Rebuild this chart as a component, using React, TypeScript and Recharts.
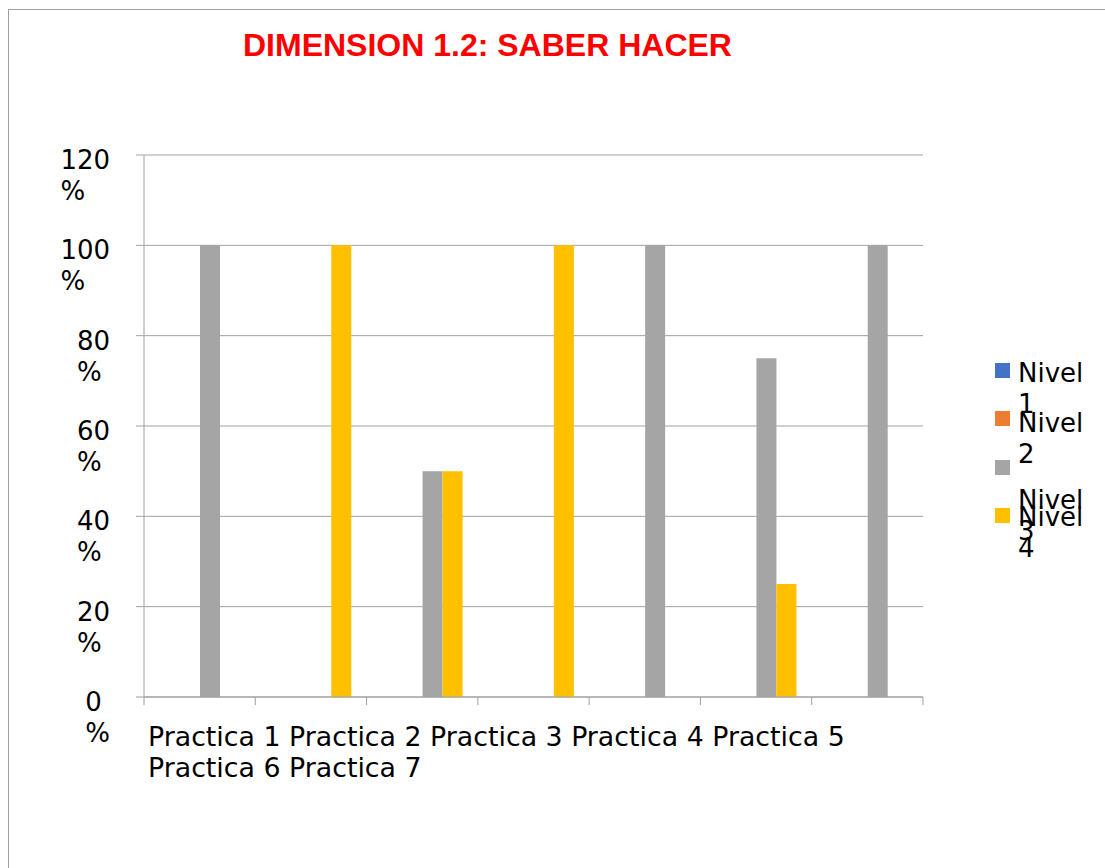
import React from "react";
import { BarChart, Bar, XAxis, YAxis, CartesianGrid, Legend } from "recharts";

const title = "DIMENSION 1.2: SABER HACER";
const categories = [
  "Practica 1",
  "Practica 2",
  "Practica 3",
  "Practica 4",
  "Practica 5",
  "Practica 6",
  "Practica 7",
];
const nivel1 = [0, 0, 0, 0, 0, 0, 0];
const nivel2 = [0, 0, 0, 0, 0, 0, 0];
const nivel3 = [100, 0, 50, 0, 100, 75, 100];
const nivel4 = [0, 100, 50, 100, 0, 25, 0];
const seriesNames = ["Nivel 1", "Nivel 2", "Nivel 3", "Nivel 4"];
const seriesColors = ["#4472c4", "#ed7d31", "#a5a5a5", "#ffc000"];
const yTicks = [0, 20, 40, 60, 80, 100, 120];

const data = categories.map((name, i) => ({
  name,
  n1: nivel1[i],
  n2: nivel2[i],
  n3: nivel3[i],
  n4: nivel4[i],
}));
const seriesKeys = ["n1", "n2", "n3", "n4"];

const FONT = "'DejaVu Sans', sans-serif";
const GRID = "#a0a0a0";
const W = 1096;
const H = 858;
const MARGIN = { top: 145, right: 182, bottom: 111, left: 35 };
const Y_WIDTH = 100;
const X_HEIGHT = 60;
const PLOT_W = W - MARGIN.left - MARGIN.right - Y_WIDTH;
const AXIS_Y = H - MARGIN.bottom - X_HEIGHT;
const BAND = PLOT_W / categories.length;

function YTick(props: any) {
  const { x, y, payload } = props;
  const num = String(payload.value);
  // block of two lines, right edge fixed, lines left aligned
  const w = Math.max(num.length * 16.5, 24.7);
  const left = x - 24 - w;
  return (
    <text x={left} y={y + 14} fontFamily={FONT} fontSize={26} fill="#000">
      <tspan x={left}>{num}</tspan>
      <tspan x={left} dy={31}>%</tspan>
    </text>
  );
}

// tick marks sit on the category boundaries, not the centres
function EdgeTick(props: any) {
  const { x, index, visibleTicksCount } = props;
  const left = x - BAND / 2;
  const last = index === visibleTicksCount - 1;
  return (
    <g>
      <line x1={left} x2={left} y1={AXIS_Y} y2={AXIS_Y + 8} stroke={GRID} />
      {last && (
        <line
          x1={x + BAND / 2}
          x2={x + BAND / 2}
          y1={AXIS_Y}
          y2={AXIS_Y + 8}
          stroke={GRID}
        />
      )}
    </g>
  );
}

// category names flow as one wrapped paragraph under the axis
function CategoryText(props: any) {
  const vb = props.viewBox || {};
  const x = (vb.x ?? MARGIN.left + Y_WIDTH) + 4;
  const y = (vb.y ?? AXIS_Y) + 23.5;
  return (
    <foreignObject x={x} y={y} width={PLOT_W} height={80}>
      <div
        style={{
          width: PLOT_W,
          fontFamily: FONT,
          fontSize: 26.8,
          lineHeight: "31px",
          color: "#000",
        }}
      >
        {categories.join(" ")}
      </div>
    </foreignObject>
  );
}

// text offsets as drawn in the original legend
const legendTextOffset = [19, 21, 50, 19];

function LegendBox(props: any) {
  const payload = props.payload || [];
  return (
    <div style={{ position: "relative", width: 110, height: 230 }}>
      {payload.map((p: any, i: number) => {
        const top = i * 48.3;
        return (
          <React.Fragment key={p.value}>
            <div
              style={{
                position: "absolute",
                left: 0,
                top,
                width: 15,
                height: 15,
                background: p.color,
              }}
            />
            <div
              style={{
                position: "absolute",
                left: 23,
                top: top + legendTextOffset[i] - 24.5,
                width: 75,
                fontFamily: FONT,
                fontSize: 26,
                lineHeight: "31px",
                color: "#000",
              }}
            >
              {p.value}
            </div>
          </React.Fragment>
        );
      })}
    </div>
  );
}

export default function App() {
  return (
    <div
      style={{
        position: "absolute",
        left: 8,
        top: 9,
        width: W,
        height: H,
        borderLeft: `1px solid ${GRID}`,
        borderTop: `1px solid ${GRID}`,
        background: "#fff",
        overflow: "hidden",
      }}
    >
      <div
        style={{
          position: "absolute",
          left: 234,
          top: 18.9,
          fontFamily: "'Liberation Sans', Arial, sans-serif",
          fontWeight: "bold",
          fontSize: 32,
          lineHeight: "32px",
          color: "#ff0000",
          whiteSpace: "nowrap",
        }}
      >
        {title}
      </div>
      <BarChart
        width={W}
        height={H}
        data={data}
        margin={MARGIN}
        barSize={20}
        barGap={0}
      >
        <CartesianGrid horizontal vertical={false} stroke={GRID} />
        <XAxis
          dataKey="name"
          height={X_HEIGHT}
          interval={0}
          tickLine={false}
          axisLine={{ stroke: GRID }}
          tick={<EdgeTick />}
          label={{ content: <CategoryText /> }}
        />
        <YAxis
          domain={[0, 120]}
          ticks={yTicks}
          interval={0}
          width={Y_WIDTH}
          tickSize={8}
          axisLine={{ stroke: GRID }}
          tickLine={{ stroke: GRID }}
          tick={<YTick />}
        />
        <Legend
          layout="horizontal"
          align="center"
          verticalAlign="middle"
          wrapperStyle={{ left: 986, top: 353, width: 110, height: 230 }}
          content={<LegendBox />}
        />
        {seriesKeys.map((k, i) => (
          <Bar
            key={k}
            dataKey={k}
            name={seriesNames[i]}
            fill={seriesColors[i]}
            isAnimationActive={false}
          />
        ))}
      </BarChart>
    </div>
  );
}
